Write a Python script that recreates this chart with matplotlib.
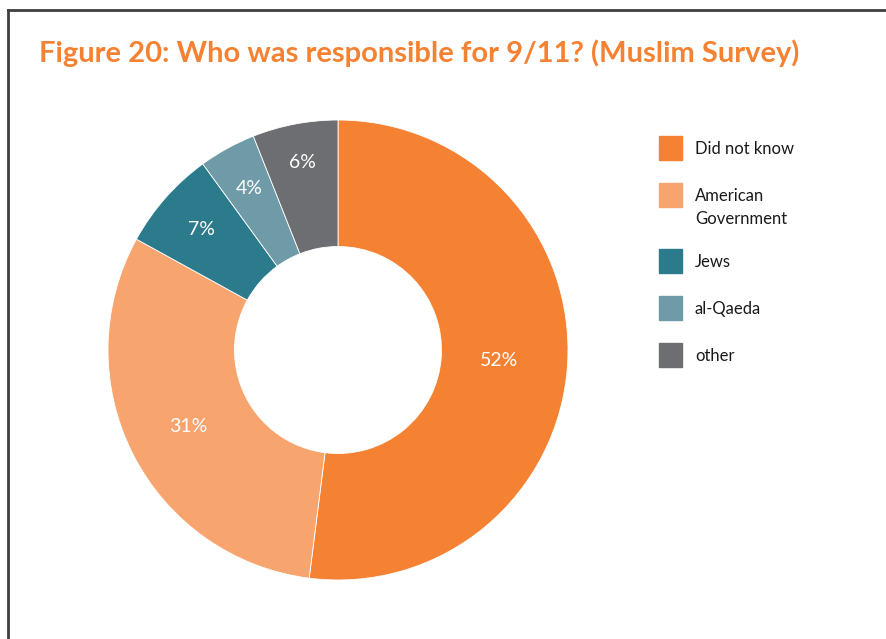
import matplotlib
matplotlib.use("Agg")
import matplotlib.pyplot as plt
import numpy as np
from matplotlib.patches import Rectangle
from matplotlib.lines import Line2D

plt.rcParams['font.family'] = ['Lato', 'DejaVu Sans']

title = "Figure 20: Who was responsible for 9/11? (Muslim Survey)"
categories = ["Did not know", "American\nGovernment", "Jews", "al-Qaeda", "other"]
shares = [52, 31, 7, 4, 6]
colors = ["#F58233", "#F7A46F", "#2C7B8C", "#6E9BA7", "#6D6E71"]
# radial placement of each percentage label (fraction of outer radius)
label_radius = [0.70, 0.73, 0.79, 0.80, 0.83]

W, H = 887, 639
fig = plt.figure(figsize=(W / 100, H / 100), dpi=100)
fig.patch.set_facecolor("white")

def fx(px):
    return px / W

def fy(py):
    return 1 - py / H

# frame lines (top and left)
fig.add_artist(Line2D([fx(8), 1], [fy(10), fy(10)], color="#3F3F3F", lw=2))
fig.add_artist(Line2D([fx(8), fx(8)], [fy(10), 0], color="#3F3F3F", lw=2))

fig.text(fx(39), fy(62), title, color="#F58233", fontsize=21, fontweight="bold",
         ha="left", va="baseline")

# donut
cx, cy, r = 338, 350, 230
ax = fig.add_axes([fx(cx - r), fy(cy + r), 2 * r / W, 2 * r / H])
wedges, _ = ax.pie(shares, colors=colors, startangle=90, counterclock=False,
                   radius=1, wedgeprops=dict(width=0.55, edgecolor="white", linewidth=0.6))
for w, v, d in zip(wedges, shares, label_radius):
    ang = np.deg2rad((w.theta1 + w.theta2) / 2)
    ax.text(d * np.cos(ang), d * np.sin(ang), f"{v}%", color="white", fontsize=14,
            ha="center", va="center")
ax.set_xlim(-1, 1)
ax.set_ylim(-1, 1)
ax.set_aspect("auto")
ax.axis("off")

# legend
y = 148
for lab, col in zip(categories, colors):
    fig.add_artist(Rectangle((fx(659), fy(y + 12)), 23 / W, 24 / H, color=col,
                             transform=fig.transFigure))
    lines = lab.split("\n")
    for i, ln in enumerate(lines):
        fig.text(fx(695), fy(y + 1 + 23 * i), ln, fontsize=12, color="#1A1A1A",
                 ha="left", va="center")
    y += 46.7 + 20 * (len(lines) - 1)

fig.savefig("out.png", dpi=100)
